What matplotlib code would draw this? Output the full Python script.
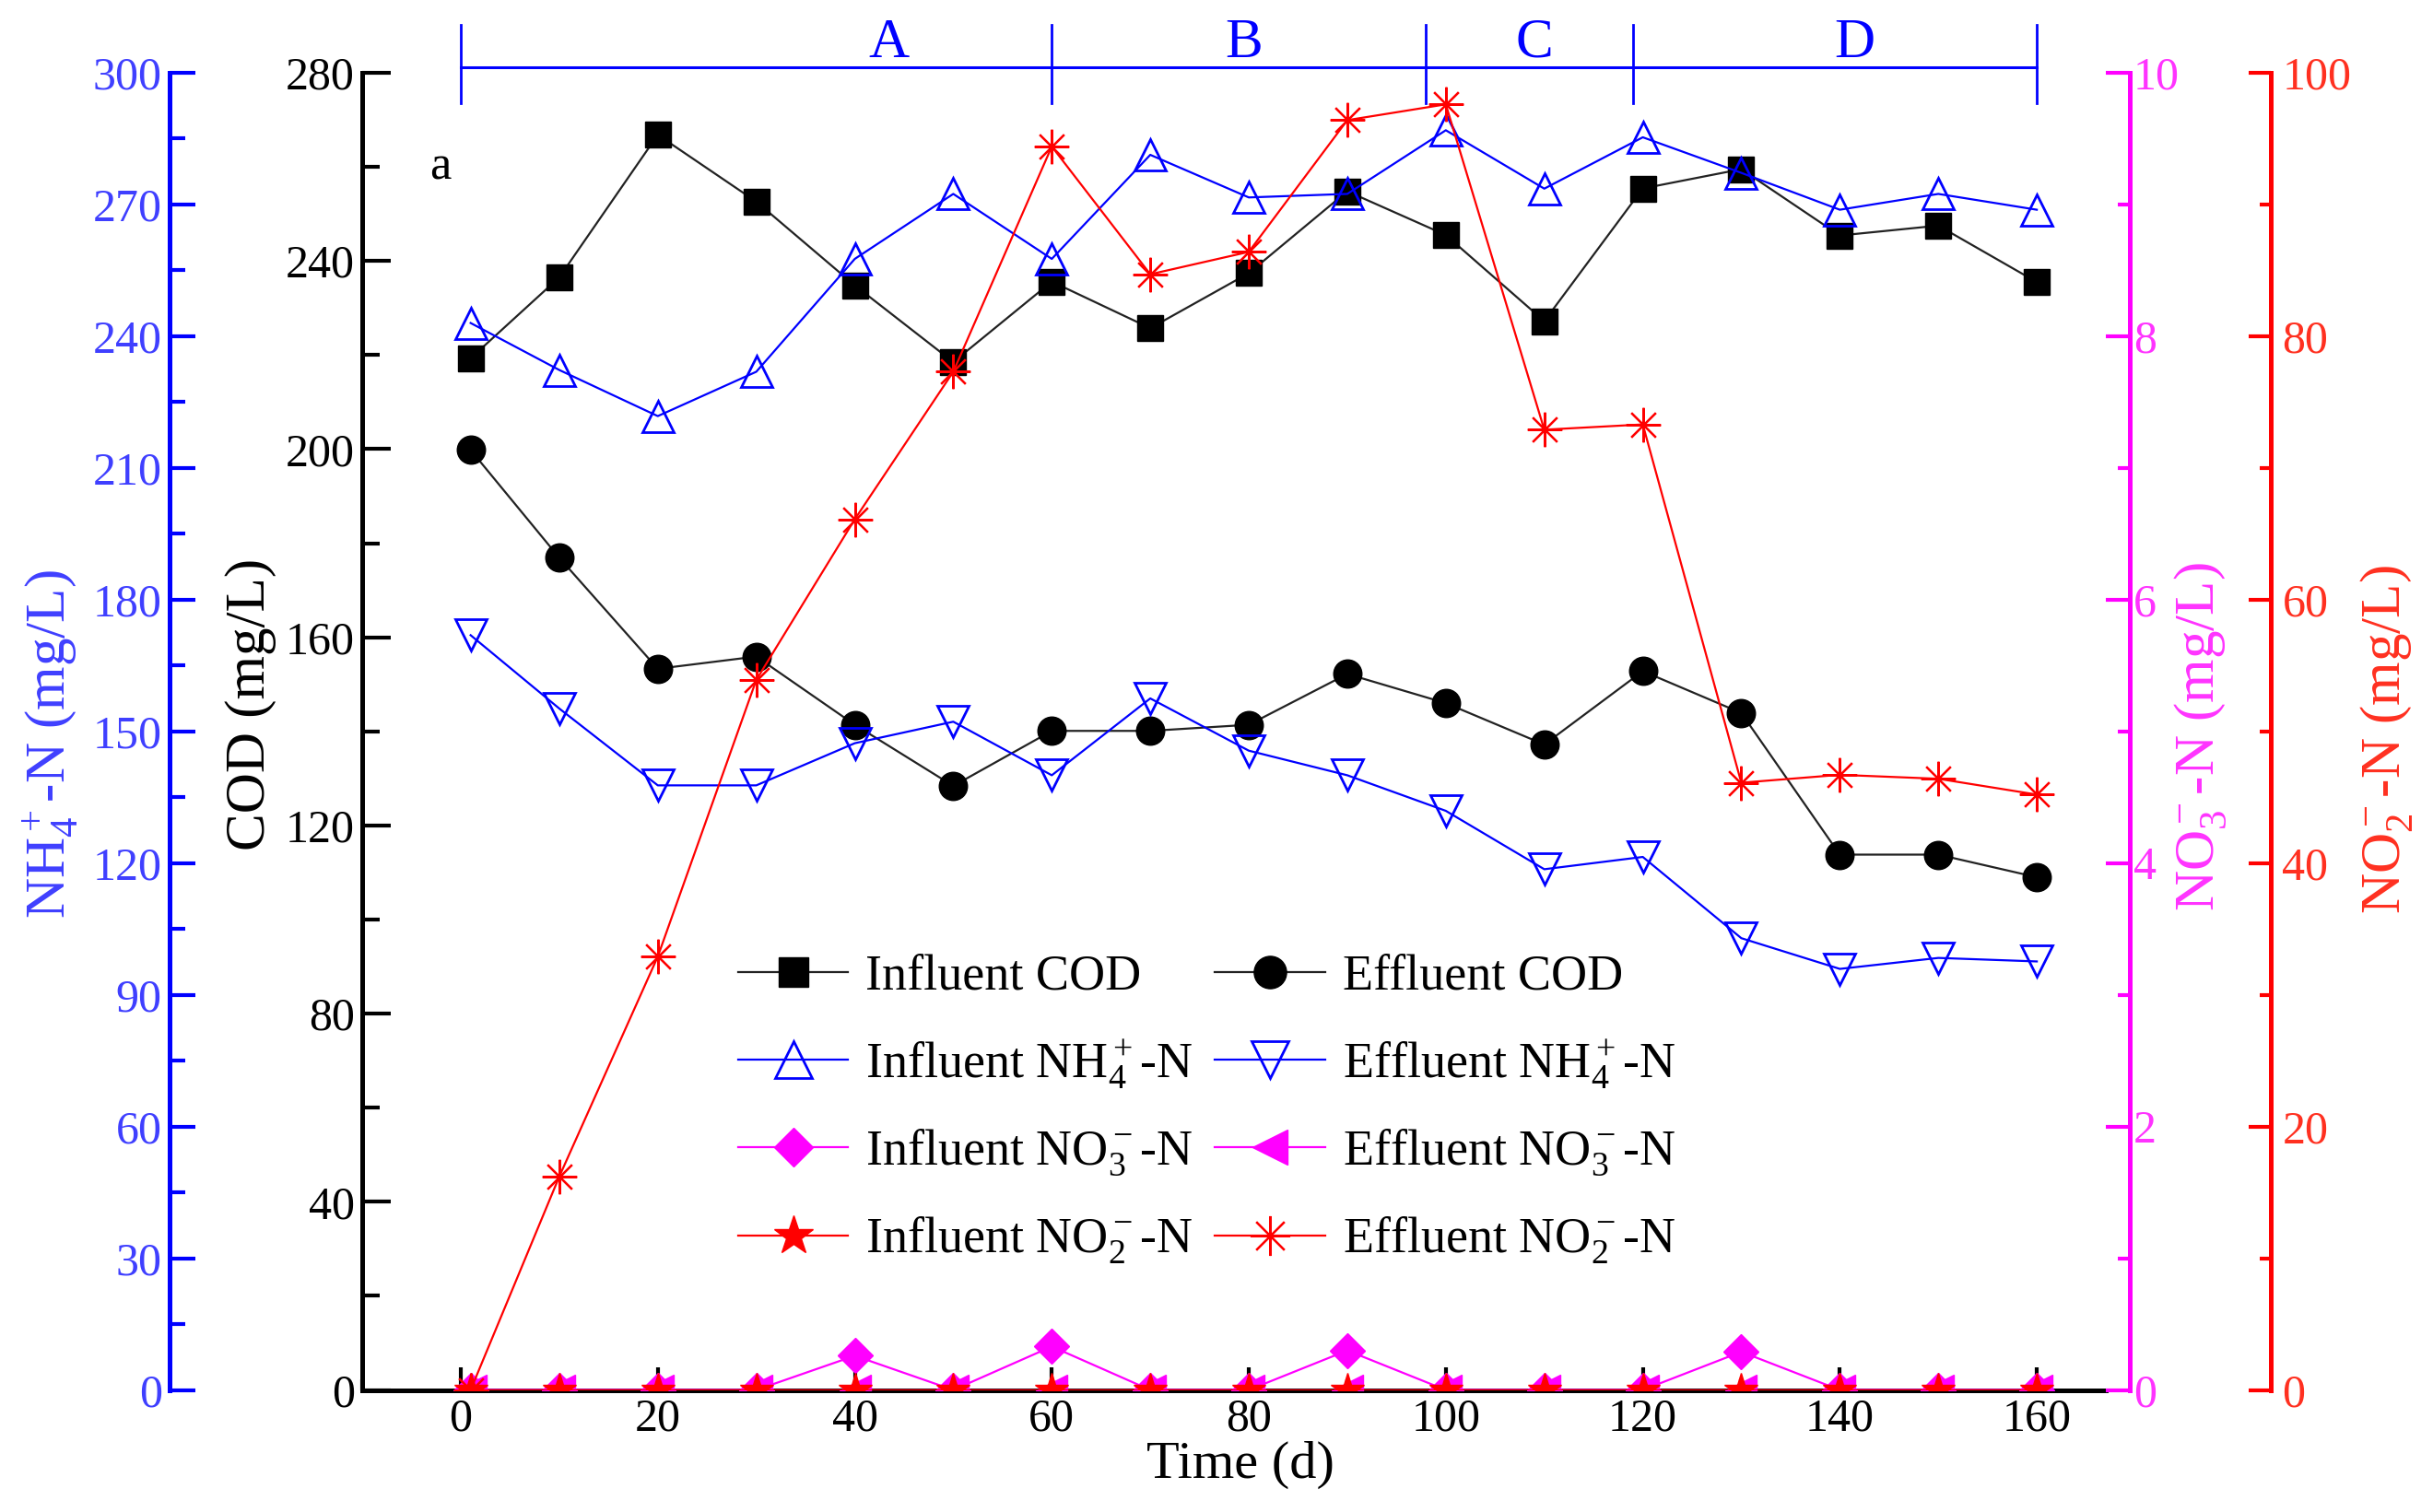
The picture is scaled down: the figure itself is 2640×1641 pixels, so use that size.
import matplotlib
matplotlib.use("Agg")
import matplotlib.pyplot as plt
from matplotlib.ticker import MultipleLocator

plt.rcParams['font.family'] = ['Liberation Serif', 'DejaVu Serif']
plt.rcParams['mathtext.fontset'] = 'custom'
plt.rcParams['mathtext.rm'] = 'Liberation Serif'
plt.rcParams['mathtext.it'] = 'Liberation Serif:italic'
plt.rcParams['mathtext.bf'] = 'Liberation Serif:bold'

# sampling days
days = [1, 10, 20, 30, 40, 50, 60, 70, 80, 90, 100, 110, 120, 130, 140, 150, 160]

# COD (mg/L)
inf_cod = [219.3, 236.5, 266.8, 252.6, 234.8, 218.5, 235.6, 225.7, 237.4,
           254.8, 245.5, 227.2, 255.4, 259.5, 245.4, 247.5, 235.5]
eff_cod = [199.8, 176.9, 153.3, 155.9, 141.4, 128.4, 140.1, 140.1, 141.4,
           152.2, 146.0, 137.2, 152.8, 143.9, 113.8, 113.8, 109.0]

# NH4+-N (mg/L)
inf_nh4 = [243.0, 232.3, 221.8, 231.9, 257.6, 272.4, 257.6, 281.3, 271.6,
           272.4, 286.9, 273.6, 285.3, 277.2, 268.8, 272.4, 268.8]
eff_nh4 = [171.9, 155.2, 137.7, 137.7, 147.3, 152.2, 140.0, 157.5, 145.6,
           140.0, 131.9, 118.6, 121.4, 102.9, 95.9, 98.4, 97.6]

# NO3--N (mg/L)
inf_no3 = [0, 0, 0, 0, 0.26, 0, 0.33, 0, 0, 0.30, 0, 0, 0, 0.29, 0, 0, 0]
eff_no3 = [0, 0, 0, 0, 0, 0, 0, 0, 0, 0, 0, 0, 0, 0, 0, 0, 0]

# NO2--N (mg/L)
inf_no2 = [0, 0, 0, 0, 0, 0, 0, 0, 0, 0, 0, 0, 0, 0, 0, 0, 0]
eff_no2 = [0, 16.2, 32.9, 53.9, 66.1, 77.3, 94.4, 84.7, 86.4,
           96.4, 97.6, 72.9, 73.3, 46.1, 46.7, 46.4, 45.2]

# operating phases
phase_bounds = [0, 60, 98, 119, 160]
phase_names = ['A', 'B', 'C', 'D']
phase_label_x = [43.5, 79.5, 109, 141.5]

BLUE = '#0000ff'
BLUE_T = '#3f3fff'
MAG = '#ff00ff'
RED = '#ff0000'
RED_T = '#ff3020'

fig = plt.figure(figsize=(26.4, 16.41), dpi=100)
ax = fig.add_axes([0.1489, 0.0807, 0.7166, 0.8712])
ax_nh4 = ax.twinx()
ax_no3 = ax.twinx()
ax_no2 = ax.twinx()


def only_spine(a, side, pos, color):
    for s in a.spines.values():
        s.set_visible(False)
    a.spines[side].set_visible(True)
    a.spines[side].set_position(('axes', pos))
    a.spines[side].set_color(color)
    a.spines[side].set_linewidth(3.6)


# main COD axis
ax.spines['top'].set_visible(False)
ax.spines['right'].set_visible(False)
ax.spines['left'].set_linewidth(3.6)
ax.spines['bottom'].set_linewidth(3.6)
ax.set_xlim(-10, 167)
ax.set_ylim(0, 280)
ax.yaxis.set_major_locator(MultipleLocator(40))
ax.yaxis.set_minor_locator(MultipleLocator(20))
ax.xaxis.set_major_locator(MultipleLocator(20))
ax.xaxis.set_minor_locator(MultipleLocator(10))
ax.tick_params(axis='both', which='major', direction='in', width=3, labelsize=36, pad=6)
ax.tick_params(axis='y', which='major', length=22)
ax.tick_params(axis='y', which='minor', direction='in', length=14, width=3)
ax.tick_params(axis='x', which='major', length=18)
ax.tick_params(axis='x', which='minor', direction='in', length=9, width=3)

# NH4 axis on the far left
only_spine(ax_nh4, 'left', -0.1105, BLUE)
ax_nh4.yaxis.tick_left()
ax_nh4.set_ylim(0, 300)
ax_nh4.yaxis.set_major_locator(MultipleLocator(30))
ax_nh4.yaxis.set_minor_locator(MultipleLocator(15))
ax_nh4.tick_params(axis='y', which='major', direction='in', length=20, width=3,
                   color=BLUE, labelcolor=BLUE_T, labelsize=36, pad=6)
ax_nh4.tick_params(axis='y', which='minor', direction='in', length=12, width=3, color=BLUE)

# NO3 axis
only_spine(ax_no3, 'right', 1.0137, MAG)
ax_no3.set_ylim(0, 10)
ax_no3.yaxis.set_major_locator(MultipleLocator(2))
ax_no3.yaxis.set_minor_locator(MultipleLocator(1))
ax_no3.tick_params(axis='y', which='major', direction='in', length=19, width=3,
                   color=MAG, labelcolor='#ff33ff', labelsize=36, pad=3)
ax_no3.tick_params(axis='y', which='minor', direction='in', length=9.5, width=3, color=MAG)

# NO2 axis
only_spine(ax_no2, 'right', 1.0946, RED)
ax_no2.set_ylim(0, 100)
ax_no2.yaxis.set_major_locator(MultipleLocator(20))
ax_no2.yaxis.set_minor_locator(MultipleLocator(10))
ax_no2.tick_params(axis='y', which='major', direction='in', length=17, width=3,
                   color=RED, labelcolor=RED_T, labelsize=36, pad=9)
ax_no2.tick_params(axis='y', which='minor', direction='in', length=8.5, width=3, color=RED)

lw = 1.6
l1, = ax.plot(days, inf_cod, '-', color='#222222', lw=lw, marker='s', ms=20,
              mfc='black', mec='black', label='Influent COD')
l2, = ax.plot(days, eff_cod, '-', color='#222222', lw=lw, marker='o', ms=22,
              mfc='black', mec='black', label='Effluent COD')
l3, = ax_nh4.plot(days, inf_nh4, '-', color=BLUE, lw=lw, marker='^', ms=25,
                  mfc='none', mec=BLUE, mew=2, label=r'Influent NH$_4^+$-N')
l4, = ax_nh4.plot(days, eff_nh4, '-', color=BLUE, lw=lw, marker='v', ms=25,
                  mfc='none', mec=BLUE, mew=2, label=r'Effluent NH$_4^+$-N')
l5, = ax_no3.plot(days, inf_no3, '-', color=MAG, lw=lw, marker='D', ms=19,
                  mfc=MAG, mec=MAG, label=r'Influent NO$_3^-$-N')
l6, = ax_no3.plot(days, eff_no3, '-', color=MAG, lw=lw, marker='<', ms=24,
                  mfc=MAG, mec=MAG, label=r'Effluent NO$_3^-$-N')
l7, = ax_no2.plot(days, inf_no2, '-', color=RED, lw=lw, marker='*', ms=28,
                  mfc=RED, mec=RED, label=r'Influent NO$_2^-$-N')
l8, = ax_no2.plot(days, eff_no2, '-', color=RED, lw=lw, marker=(8, 2, 0), ms=27,
                  mec=RED, mew=1.6, label=r'Effluent NO$_2^-$-N')

handles = [l1, l3, l5, l7, l2, l4, l6, l8]
ax_no2.legend(handles, [h.get_label() for h in handles], ncol=2, loc='upper left',
              bbox_to_anchor=(0.2157, 0.331), bbox_transform=ax.transAxes,
              frameon=False, fontsize=39, handlelength=2.2, handletextpad=0.35,
              columnspacing=0.45, labelspacing=0.74, borderpad=0, borderaxespad=0,
              markerscale=1.15)

# phase bar above the plot
trans = ax.get_xaxis_transform()
ax.plot([phase_bounds[0], phase_bounds[-1]], [1.004, 1.004], color=BLUE, lw=2.2,
        transform=trans, clip_on=False)
for b in phase_bounds:
    ax.plot([b, b], [0.977, 1.036], color=BLUE, lw=2, transform=trans, clip_on=False)
for name, xm in zip(phase_names, phase_label_x):
    ax.text(xm, 1.012, name, ha='center', va='baseline', fontsize=44, color=BLUE,
            transform=trans)

ax.text(0.045, 0.928, 'a', transform=ax.transAxes, fontsize=38, ha='center', va='center')

fig.text(0.103, 0.534, 'COD (mg/L)', rotation=90, ha='center', va='center', fontsize=44)
fig.text(0.0208, 0.508, r'NH$_4^+$-N (mg/L)', rotation=90, ha='center', va='center',
         fontsize=44, color=BLUE_T)
fig.text(0.9045, 0.513, r'NO$_3^-$-N (mg/L)', rotation=90, ha='center', va='center',
         fontsize=44, color='#ff33ff')
fig.text(0.981, 0.511, r'NO$_2^-$-N (mg/L)', rotation=90, ha='center', va='center',
         fontsize=44, color=RED_T)
fig.text(0.510, 0.031, 'Time (d)', ha='center', va='center', fontsize=42)

fig.savefig('out.png', dpi=100)
